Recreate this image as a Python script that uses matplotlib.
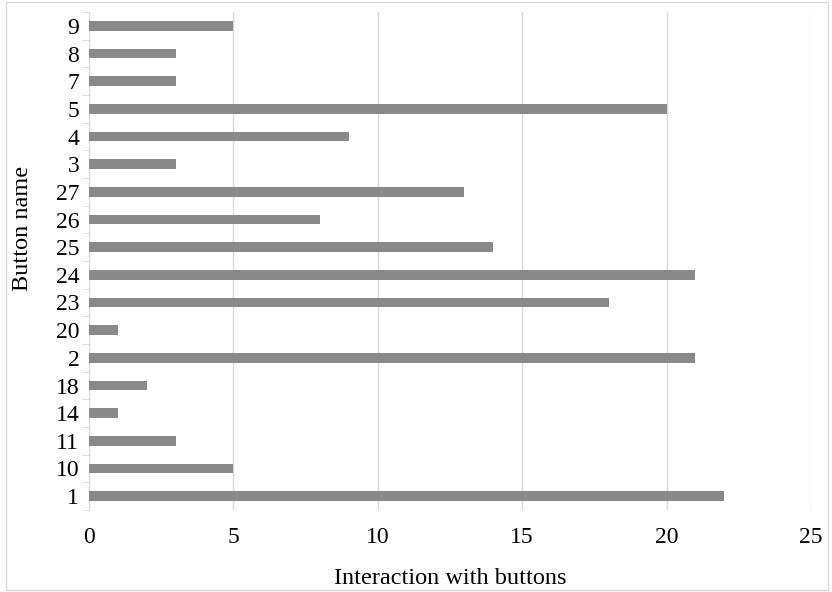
import matplotlib
matplotlib.use("Agg")
import matplotlib.pyplot as plt
from matplotlib.patches import Rectangle

plt.rcParams["font.family"] = ["Liberation Serif", "DejaVu Serif"]

# button names, bottom to top as shown
buttons = ["1", "10", "11", "14", "18", "2", "20", "23", "24",
           "25", "26", "27", "3", "4", "5", "7", "8", "9"]
interactions = [22, 5, 3, 1, 2, 21, 1, 18, 21, 14, 8, 13, 3, 9, 20, 3, 3, 5]
xticks = [0, 5, 10, 15, 20, 25]

fig = plt.figure(figsize=(8.32, 5.92), dpi=100)
ax = fig.add_axes([89 / 832, 82 / 592, 722 / 832, 498 / 592])

pos = range(len(buttons))
ax.barh(pos, interactions, height=0.35, color="#898989", zorder=3)

ax.set_xlim(0, 25)
ax.set_ylim(-0.5, len(buttons) - 0.5)
ax.set_xticks(xticks)
ax.set_yticks(list(pos))
ax.set_yticklabels(buttons)
ax.set_yticks([p - 0.5 for p in range(len(buttons) + 1)], minor=True)

ax.grid(axis="x", color="#d9d9d9", linewidth=1, zorder=0)
for s in ["top", "right", "bottom"]:
    ax.spines[s].set_visible(False)
ax.spines["left"].set_color("#d9d9d9")

ax.tick_params(axis="x", length=0, pad=12, labelsize=17)
ax.tick_params(axis="y", which="major", length=0, pad=7, labelsize=17)
ax.tick_params(axis="y", which="minor", length=5, color="#d9d9d9", direction="out")

ax.set_xlabel("Interaction with buttons", fontsize=17.5)
ax.set_ylabel("Button name", fontsize=17.5)
ax.xaxis.set_label_coords(0.5, -0.117)
ax.yaxis.set_label_coords(-0.077, 0.565)

fig.patches.append(Rectangle((6 / 832, 2 / 592), 822 / 832, 588 / 592,
                             transform=fig.transFigure, fill=False,
                             edgecolor="#d9d9d9", linewidth=1))

fig.savefig("out.png", dpi=100)
